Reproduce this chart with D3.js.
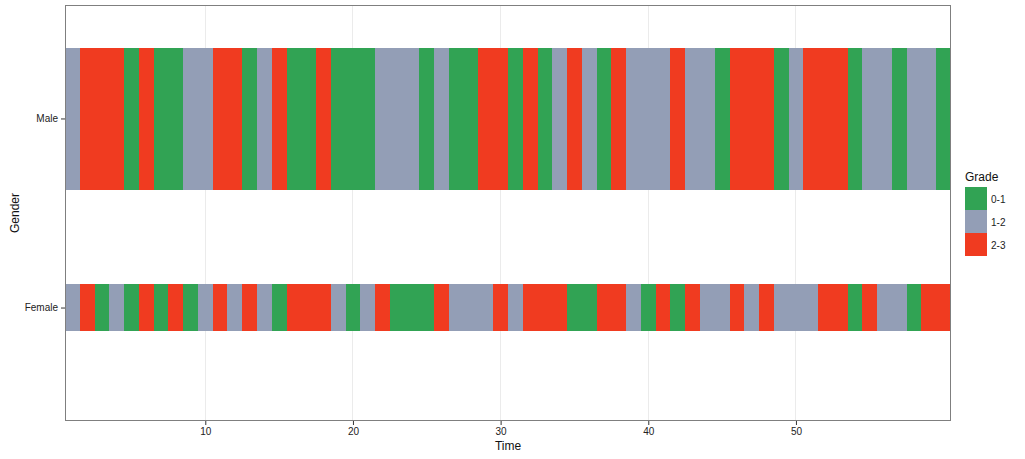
<!DOCTYPE html>
<html>
<head>
<meta charset="utf-8">
<script src="https://cdn.jsdelivr.net/npm/d3@7"></script>
<style>
html,body{margin:0;padding:0;background:#fff;}
svg{display:block;font-family:"Liberation Sans",Arial,sans-serif;}
</style>
</head>
<body>
<svg id="chart" width="1025" height="459"></svg>
<script>
const genders = ["Male", "Female"];
const grades = ["0-1", "1-2", "2-3"];
const gradeColors = ["#31a354", "#939eb6", "#f03b20"];
const xTicks = [10, 20, 30, 40, 50];
const times = d3.range(1, 61);
const maleGrades = ["1-2","2-3","2-3","2-3","0-1","2-3","0-1","0-1","1-2","1-2",
  "2-3","2-3","0-1","1-2","2-3","0-1","0-1","2-3","0-1","0-1",
  "0-1","1-2","1-2","1-2","0-1","1-2","0-1","0-1","2-3","2-3",
  "0-1","2-3","0-1","1-2","2-3","1-2","0-1","2-3","1-2","1-2",
  "1-2","2-3","1-2","1-2","0-1","2-3","2-3","2-3","0-1","1-2",
  "2-3","2-3","2-3","0-1","1-2","1-2","0-1","1-2","1-2","0-1"];
const femaleGrades = ["1-2","2-3","0-1","1-2","0-1","2-3","0-1","2-3","0-1","1-2",
  "2-3","1-2","2-3","1-2","0-1","2-3","2-3","2-3","1-2","0-1",
  "1-2","2-3","0-1","0-1","0-1","2-3","1-2","1-2","1-2","2-3",
  "1-2","2-3","2-3","2-3","0-1","0-1","2-3","2-3","1-2","0-1",
  "2-3","0-1","2-3","1-2","1-2","2-3","1-2","2-3","1-2","1-2",
  "1-2","2-3","2-3","0-1","2-3","1-2","1-2","0-1","2-3","2-3"];

const tiles = [];
times.forEach((t, i) => {
  tiles.push({gender: "Male", time: t, grade: maleGrades[i]});
  tiles.push({gender: "Female", time: t, grade: femaleGrades[i]});
});

const svg = d3.select("#chart");
const P = {left: 65, right: 951, top: 5, bottom: 421};

const x = d3.scaleLinear().domain([0.5, 60.5]).range([P.left, P.right]);
const y = d3.scalePoint().domain(genders).range([P.top, P.bottom]).padding(0.6);
const color = d3.scaleOrdinal().domain(grades).range(gradeColors);
const heightFrac = {Male: 0.75, Female: 0.25};

// background + grid
svg.append("rect").attr("x", P.left).attr("y", P.top)
  .attr("width", P.right - P.left).attr("height", P.bottom - P.top).attr("fill", "#fff");
svg.append("g").attr("shape-rendering", "crispEdges").selectAll("line").data(xTicks).join("line")
  .attr("x1", d => x(d)).attr("x2", d => x(d))
  .attr("y1", P.top).attr("y2", P.bottom)
  .attr("stroke", "#ebebeb").attr("stroke-width", 1);
svg.append("g").attr("shape-rendering", "crispEdges").selectAll("line").data(genders).join("line")
  .attr("x1", P.left).attr("x2", P.right)
  .attr("y1", d => y(d)).attr("y2", d => y(d))
  .attr("stroke", "#ebebeb").attr("stroke-width", 1);

// tiles
const step = y.step();
svg.append("g").attr("shape-rendering", "crispEdges").selectAll("rect").data(tiles).join("rect")
  .attr("x", d => Math.round(x(d.time - 0.5)))
  .attr("width", d => Math.round(x(d.time + 0.5)) - Math.round(x(d.time - 0.5)))
  .attr("y", d => Math.round(y(d.gender) - heightFrac[d.gender] * step / 2))
  .attr("height", d => Math.round(heightFrac[d.gender] * step))
  .attr("fill", d => color(d.grade));

// border
svg.append("rect").attr("x", P.left + 0.5).attr("y", P.top + 0.5)
  .attr("width", P.right - P.left - 1).attr("height", P.bottom - P.top - 1)
  .attr("fill", "none").attr("stroke", "#7f7f7f").attr("stroke-width", 1);

// axes
const xAxis = svg.append("g").attr("transform", `translate(0,${P.bottom})`)
  .call(d3.axisBottom(x).tickValues(xTicks).tickSize(4).tickSizeOuter(0).tickPadding(3));
xAxis.select(".domain").remove();
xAxis.selectAll("line").attr("stroke", "#333");
xAxis.selectAll("text").attr("font-size", 10).attr("fill", "#222")
  .attr("font-family", "Liberation Sans, Arial, sans-serif");

const yAxis = svg.append("g").attr("transform", `translate(${P.left},0)`)
  .call(d3.axisLeft(y).tickSize(4).tickSizeOuter(0).tickPadding(3));
yAxis.select(".domain").remove();
yAxis.selectAll("line").attr("stroke", "#333");
yAxis.selectAll("text").attr("font-size", 10).attr("fill", "#222")
  .attr("font-family", "Liberation Sans, Arial, sans-serif");

// titles
svg.append("text").attr("x", (P.left + P.right) / 2).attr("y", 450)
  .attr("text-anchor", "middle").attr("font-size", 12).attr("fill", "#111").text("Time");
svg.append("text").attr("transform", `translate(19,${(P.top + P.bottom) / 2}) rotate(-90)`)
  .attr("text-anchor", "middle").attr("font-size", 12).attr("fill", "#111").text("Gender");

// legend
const lg = svg.append("g").attr("transform", "translate(965,0)");
lg.append("text").attr("x", 0).attr("y", 181).attr("font-size", 12).attr("fill", "#111").text("Grade");
const items = lg.selectAll("g.item").data(grades).join("g")
  .attr("transform", (d, i) => `translate(0,${187 + i * 23})`);
items.append("rect").attr("width", 22).attr("height", 23).attr("fill", d => color(d));
items.append("text").attr("x", 26).attr("y", 15.5).attr("font-size", 10).attr("fill", "#222").text(d => d);
</script>
</body>
</html>
